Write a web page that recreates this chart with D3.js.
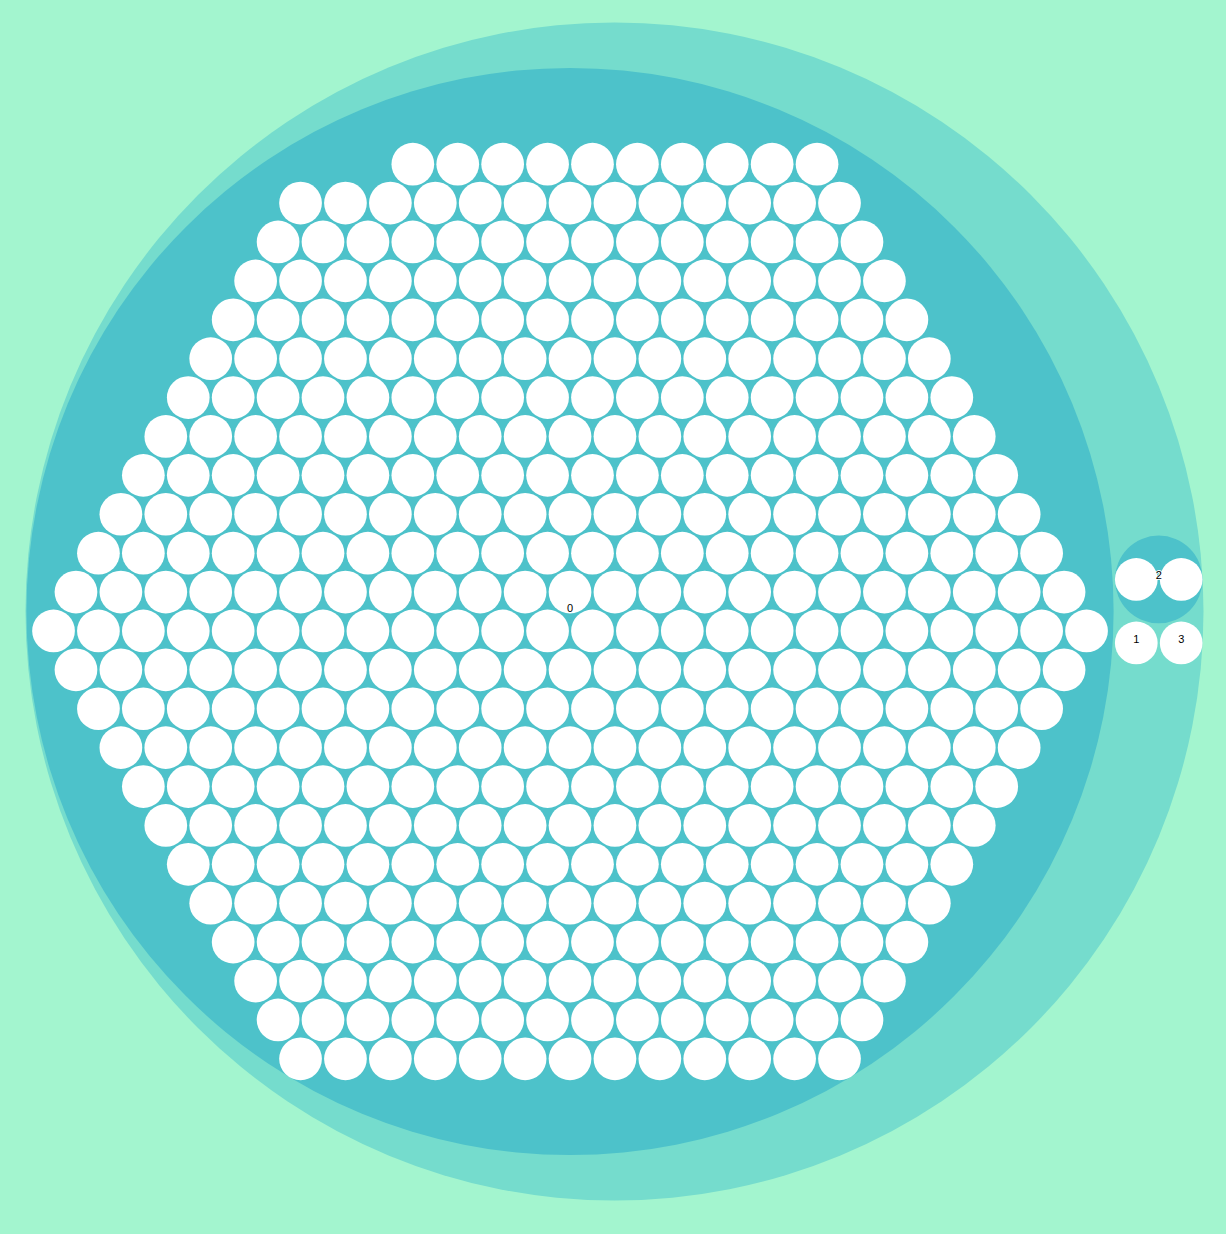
<!DOCTYPE html>
<html><head><meta charset="utf-8">
<script src="https://cdn.jsdelivr.net/npm/d3@7"></script>
<style>
html,body{margin:0;padding:0;} svg{display:block}
.label{font:11px "Helvetica Neue", Helvetica, "Liberation Sans", Arial, sans-serif;text-anchor:middle;
  text-shadow:0 1px 0 #fff, 1px 0 0 #fff, -1px 0 0 #fff, 0 -1px 0 #fff;}
</style>
</head><body>
<script>
// ---- data ----
const groupNames = ["0", "1", "2", "3"];
const groupLeafCounts = [430, 0, 2, 0];   // 0 -> the node is itself a single leaf
const leafValue = 1;

// ---- layout / style ----
const width = 1226, height = 1234;
const packDiameter = 1178, padding = 2.3;
const centerX = 614.5, centerY = 611.5;

// classic HCL interpolation (D65 Lab, as in the original chart)
const LX = 0.95047, LY = 1, LZ = 1.08883;
function rgbXyz(r) { return (r /= 255) <= 0.04045 ? r / 12.92 : Math.pow((r + 0.055) / 1.055, 2.4); }
function xyzLab(x) { return x > 0.008856 ? Math.pow(x, 1 / 3) : 7.787037 * x + 4 / 29; }
function labXyz(x) { return x > 0.206893034 ? x * x * x : (x - 4 / 29) / 7.787037; }
function xyzRgb(r) { return Math.max(0, Math.min(255, Math.round(255 * (r <= 0.00304 ? 12.92 * r : 1.055 * Math.pow(r, 1 / 2.4) - 0.055)))); }
function toHcl(spec) {
  const c = d3.rgb(spec), r = rgbXyz(Math.round(c.r)), g = rgbXyz(Math.round(c.g)), b = rgbXyz(Math.round(c.b));
  const x = xyzLab((0.4124564 * r + 0.3575761 * g + 0.1804375 * b) / LX),
        y = xyzLab((0.2126729 * r + 0.7151522 * g + 0.072175 * b) / LY),
        z = xyzLab((0.0193339 * r + 0.119192 * g + 0.9503041 * b) / LZ);
  const l = 116 * y - 16, A = 500 * (x - y), B = 200 * (y - z);
  return {h: Math.atan2(B, A) * 180 / Math.PI, c: Math.sqrt(A * A + B * B), l};
}
function hclToRgb(h, c, l) {
  h *= Math.PI / 180;
  const A = Math.cos(h) * c, B = Math.sin(h) * c;
  let y = (l + 16) / 116, x = y + A / 500, z = y - B / 200;
  x = labXyz(x) * LX; y = labXyz(y) * LY; z = labXyz(z) * LZ;
  return d3.rgb(xyzRgb(3.2404542 * x - 1.5371385 * y - 0.4985314 * z),
                xyzRgb(-0.969266 * x + 1.8760108 * y + 0.041556 * z),
                xyzRgb(0.0556434 * x - 0.2040259 * y + 1.0572252 * z)).formatHex();
}
function interpolateHclClassic(a, b) {
  a = toHcl(a); b = toHcl(b);
  let bh = b.h - a.h; if (bh > 180) bh -= 360; else if (bh < -180) bh += 360;
  const bc = b.c - a.c, bl = b.l - a.l;
  return t => hclToRgb(a.h + bh * t, a.c + bc * t, a.l + bl * t);
}

const color = d3.scaleLinear().domain([-1, 5])
  .range(["hsl(152,80%,80%)", "hsl(228,30%,40%)"])
  .interpolate(interpolateHclClassic);

const data = {
  name: "root",
  children: groupNames.map((name, i) => groupLeafCounts[i] > 0
    ? {name, children: d3.range(groupLeafCounts[i]).map(j => ({name: name + "." + j, value: leafValue}))}
    : {name, value: leafValue})
};

// classic (v3-style) front-chain circle packing, on a d3.hierarchy
function packLink(n) { n._next = n._prev = n; }
function packInsert(a, b) { const c = a._next; a._next = b; b._prev = a; b._next = c; c._prev = b; }
function packSplice(a, b) { a._next = b; b._prev = a; }
function packIntersects(a, b) { const dx = b.x - a.x, dy = b.y - a.y, dr = a.r + b.r; return 0.999 * dr * dr > dx * dx + dy * dy; }
function packPlace(a, b, c) {
  let db = a.r + c.r; const dx = b.x - a.x, dy = b.y - a.y;
  if (db && (dx || dy)) {
    let da = b.r + c.r; const dc = dx * dx + dy * dy;
    da *= da; db *= db;
    const x = 0.5 + (db - da) / (2 * dc),
          y = Math.sqrt(Math.max(0, 2 * da * (db + dc) - (db -= dc) * db - da * da)) / (2 * dc);
    c.x = a.x + x * dx + y * dy;
    c.y = a.y + x * dy - y * dx;
  } else { c.x = a.x + db; c.y = a.y; }
}
function packSiblings(node) {
  const nodes = node.children; if (!nodes || !nodes.length) return;
  const n = nodes.length;
  let xMin = Infinity, xMax = -Infinity, yMin = Infinity, yMax = -Infinity, a, b, c, i, j, k;
  function bound(d) {
    xMin = Math.min(d.x - d.r, xMin); xMax = Math.max(d.x + d.r, xMax);
    yMin = Math.min(d.y - d.r, yMin); yMax = Math.max(d.y + d.r, yMax);
  }
  nodes.forEach(packLink);
  a = nodes[0]; a.x = -a.r; a.y = 0; bound(a);
  if (n > 1) {
    b = nodes[1]; b.x = b.r; b.y = 0; bound(b);
    if (n > 2) {
      c = nodes[2]; packPlace(a, b, c); bound(c);
      packInsert(a, c); a._prev = c; packInsert(c, b); b = a._next;
      for (i = 3; i < n; i++) {
        packPlace(a, b, c = nodes[i]);
        let isect = 0, s1 = 1, s2 = 1;
        for (j = b._next; j !== b; j = j._next, s1++) {
          if (packIntersects(j, c)) { isect = 1; break; }
        }
        if (isect == 1) {
          for (k = a._prev; k !== j._prev; k = k._prev, s2++) {
            if (packIntersects(k, c)) break;
          }
        }
        if (isect) {
          if (s1 < s2 || (s1 == s2 && b.r < a.r)) packSplice(a, b = j); else packSplice(a = k, b);
          i--;
        } else { packInsert(a, c); b = c; bound(c); }
      }
    }
  }
  const cx = (xMin + xMax) / 2, cy = (yMin + yMax) / 2; let cr = 0;
  for (i = 0; i < n; i++) {
    c = nodes[i]; c.x -= cx; c.y -= cy;
    cr = Math.max(cr, c.r + Math.sqrt(c.x * c.x + c.y * c.y));
  }
  node.r = cr;
  nodes.forEach(d => { delete d._next; delete d._prev; });
}
function packTransform(node, x, y, k) {
  node.x = x += k * node.x; node.y = y += k * node.y; node.r *= k;
  if (node.children) node.children.forEach(ch => packTransform(ch, x, y, k));
}
function classicPack(root, w, h, pad) {
  root.x = root.y = 0;
  root.eachAfter(d => { d.r = Math.sqrt(d.value); });
  root.eachAfter(packSiblings);
  if (pad) {
    const dr = pad * Math.max(2 * root.r / w, 2 * root.r / h) / 2;
    root.eachAfter(d => { d.r += dr; });
    root.eachAfter(packSiblings);
    root.eachAfter(d => { d.r -= dr; });
  }
  packTransform(root, w / 2, h / 2, 1 / Math.max(2 * root.r / w, 2 * root.r / h));
  return root;
}

const root = d3.hierarchy(data).sum(d => d.value || 0).sort((a, b) => a.value - b.value);
classicPack(root, packDiameter, packDiameter, padding);

const svg = d3.select("body").append("svg")
  .attr("width", width).attr("height", height)
  .style("background", color(-1));

const g = svg.append("g")
  .attr("transform", `translate(${centerX - packDiameter / 2},${centerY - packDiameter / 2})`);

g.selectAll("circle")
  .data(root.descendants())
  .join("circle")
  .attr("cx", d => d.x).attr("cy", d => d.y).attr("r", d => d.r)
  .attr("fill", d => d.children ? color(d.depth) : "white");

g.selectAll("text")
  .data(root.children)
  .join("text")
  .attr("class", "label")
  .attr("x", d => d.x).attr("y", d => d.y)
  .text(d => d.data.name);
</script>
</body></html>
